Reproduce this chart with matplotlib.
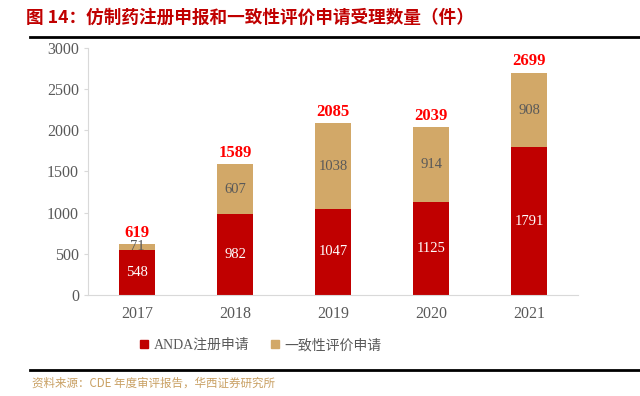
import matplotlib
matplotlib.use('agg')
import matplotlib.pyplot as plt
from matplotlib.lines import Line2D

plt.rcParams['font.family'] = ['Liberation Serif', 'Noto Sans CJK SC']

years = ['2017', '2018', '2019', '2020', '2021']
anda = [548, 982, 1047, 1125, 1791]
consistency = [71, 607, 1038, 914, 908]
totals = [619, 1589, 2085, 2039, 2699]

red = '#C00000'
tan = '#D2A868'
gray = '#595959'

fig = plt.figure(figsize=(6.4, 3.96), dpi=100)
ax = fig.add_axes([0.1375, 0.255, 0.766, 0.624])

x = range(len(years))
w = 0.37
ax.bar(x, anda, w, color=red, label='ANDA注册申请')
ax.bar(x, consistency, w, bottom=anda, color=tan, label='一致性评价申请')

for i in x:
    ax.text(i, anda[i] / 2, str(anda[i]), ha='center', va='center',
            color='white', fontsize=10.5)
    ax.text(i, anda[i] + consistency[i] / 2, str(consistency[i]), ha='center',
            va='center', color=gray, fontsize=10.5)
    ax.text(i, totals[i] + 40, str(totals[i]), ha='center', va='bottom',
            color='#FF0000', fontsize=12, fontweight='bold')

ax.set_xlim(-0.5, 4.5)
ax.set_ylim(0, 3000)
ax.set_yticks(range(0, 3001, 500))
ax.set_xticks(list(x))
ax.set_xticklabels(years)
ax.tick_params(axis='both', colors=gray, labelsize=11.5)
ax.tick_params(axis='y', length=3, color='#D9D9D9')
ax.tick_params(axis='x', length=0, pad=8)
for s in ['top', 'right']:
    ax.spines[s].set_visible(False)
ax.spines['left'].set_color('#D9D9D9')
ax.spines['bottom'].set_color('#D9D9D9')

handles = [Line2D([], [], marker='s', ls='', color=red, markersize=5.5),
           Line2D([], [], marker='s', ls='', color=tan, markersize=5.5)]
leg = fig.legend(handles, ['ANDA注册申请', '一致性评价申请'], loc='center',
                 bbox_to_anchor=(0.40, 0.128), ncol=2, frameon=False,
                 handletextpad=-0.3, columnspacing=0.8, fontsize=10)
for t in leg.get_texts():
    t.set_color(gray)

# title and footer
fig.text(0.04, 0.955, '图 14：仿制药注册申报和一致性评价申请受理数量（件）',
         color='#C00000', fontsize=12.7, fontweight='bold', va='center',
         family=['Noto Sans CJK SC', 'DejaVu Sans'])
fig.add_artist(Line2D([0.047, 1.0], [0.907, 0.907], color='black', lw=2))
fig.add_artist(Line2D([0.047, 1.0], [0.065, 0.065], color='black', lw=2))
fig.text(0.05, 0.032, '资料来源：CDE 年度审评报告，华西证券研究所', color='#C9A063',
         fontsize=8.3, va='center', family=['Noto Sans CJK SC', 'DejaVu Sans'])

fig.savefig('out.png', dpi=100)
